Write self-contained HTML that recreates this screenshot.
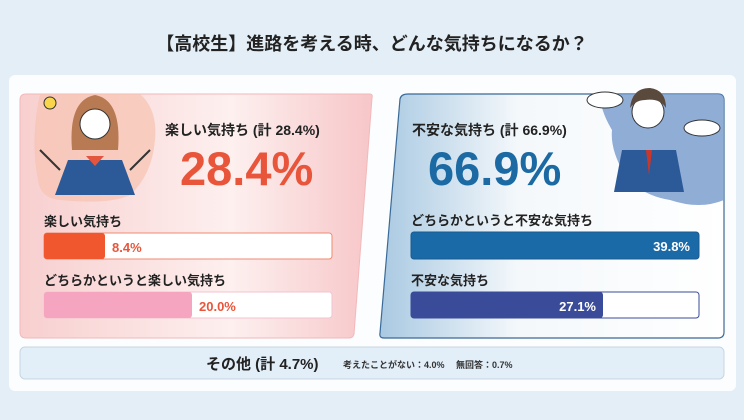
<!DOCTYPE html>
<html><head><meta charset="utf-8"><style>
body{margin:0;width:744px;height:415px;overflow:hidden;background:#e3eef6;font-family:"Liberation Sans","Noto Sans CJK JP",sans-serif;}
</style></head><body>
<svg width="744" height="415" xmlns="http://www.w3.org/2000/svg" style="font-family:'Liberation Sans','Noto Sans CJK JP',sans-serif">
<defs>
<linearGradient id="pk" x1="0" y1="0" x2="1" y2="0"><stop offset="0" stop-color="#f8cfcf"/><stop offset="0.6" stop-color="#fdf0ef"/><stop offset="1" stop-color="#f7c6c8"/></linearGradient>
<linearGradient id="bl" x1="0" y1="0" x2="1" y2="0"><stop offset="0" stop-color="#a9c9e2"/><stop offset="0.4" stop-color="#f4f8fb"/><stop offset="1" stop-color="#ffffff"/></linearGradient>
</defs>
<rect x="0" y="0" width="744" height="415" fill="#e3eef6"/>
<text x="372" y="50" text-anchor="middle" font-size="18" font-weight="bold" fill="#222">【高校生】進路を考える時、どんな気持ちになるか？</text>
<rect x="9" y="75" width="727" height="316" rx="6" fill="#fbfdfe"/>
<!-- left panel -->
<path d="M26 94 H370 Q373 94 372 98 L354 334 Q353 338 349 338 H26 Q20 338 20 332 V100 Q20 94 26 94Z" fill="url(#pk)" stroke="#f2b9bb" stroke-width="1"/>
<path d="M40 94 H140 Q158 110 155 140 Q152 175 130 195 Q110 205 60 200 Q40 198 38 180 Q30 140 40 94Z" fill="#f7c3b0" opacity="0.7"/>
<circle cx="50" cy="103" r="6" fill="#f8d54b" stroke="#333" stroke-width="1"/>
<path d="M72 150 Q68 100 95 95 Q122 100 118 150Z" fill="#b87a52"/>
<circle cx="95" cy="124" r="15" fill="#fff" stroke="#333"/>
<path d="M55 195 L68 160 H122 L135 195Z" fill="#2c5a99"/>
<path d="M86 156 L95 166 L104 156Z" fill="#e4553e"/>
<path d="M40 150 L60 170 M150 150 L130 170" stroke="#333" stroke-width="2"/>
<text x="165" y="135" font-size="14" font-weight="bold" fill="#222">楽しい気持ち (計 28.4%)</text>
<text x="180" y="185" font-size="47" font-weight="bold" fill="#e9553a">28.4%</text>
<text x="44" y="226" font-size="13" font-weight="bold" fill="#222">楽しい気持ち</text>
<rect x="44" y="233" width="288" height="26" rx="3" fill="#fff" stroke="#f08a70"/>
<rect x="44" y="233" width="61" height="26" rx="3" fill="#f0572f"/>
<text x="112" y="252" font-size="13" font-weight="bold" fill="#e9553a">8.4%</text>
<text x="44" y="285" font-size="13" font-weight="bold" fill="#222">どちらかというと楽しい気持ち</text>
<rect x="44" y="292" width="288" height="26" rx="3" fill="#fff" stroke="#f3c3d0"/>
<rect x="44" y="292" width="148" height="26" rx="3" fill="#f5a5bf"/>
<text x="199" y="311" font-size="13" font-weight="bold" fill="#e9553a">20.0%</text>
<!-- right panel -->
<path d="M408 94 H718 Q724 94 724 100 V332 Q724 338 718 338 H384 Q379 338 380 333 L400 99 Q401 94 408 94Z" fill="url(#bl)" stroke="#3a6a98" stroke-width="1.2"/>
<path d="M600 94 H718 Q724 94 724 100 V200 Q700 210 670 200 Q640 195 625 175 Q610 150 612 130 Q600 110 600 94Z" fill="#7d9fcf" opacity="0.85"/>
<ellipse cx="605" cy="100" rx="18" ry="8" fill="#fff" stroke="#333"/>
<ellipse cx="702" cy="128" rx="18" ry="8" fill="#fff" stroke="#333"/>
<circle cx="648" cy="112" r="16" fill="#fff" stroke="#333"/>
<path d="M630 108 Q632 88 650 88 Q666 90 666 108 Q660 98 645 100 Q636 100 630 108Z" fill="#5a4a3e"/>
<path d="M614 192 L622 150 H676 L684 192Z" fill="#2c5a99"/>
<path d="M646 150 L649 175 L652 150Z" fill="#c9372c"/>
<text x="412" y="135" font-size="14" font-weight="bold" fill="#222">不安な気持ち (計 66.9%)</text>
<text x="428" y="185" font-size="47" font-weight="bold" fill="#1b6aa3">66.9%</text>
<text x="411" y="225" font-size="13" font-weight="bold" fill="#222">どちらかというと不安な気持ち</text>
<rect x="411" y="232" width="288" height="27" rx="3" fill="#1a6aa8" stroke="#1a5a90"/>
<text x="690" y="251" text-anchor="end" font-size="13" font-weight="bold" fill="#fff">39.8%</text>
<text x="411" y="285" font-size="13" font-weight="bold" fill="#222">不安な気持ち</text>
<rect x="411" y="292" width="288" height="26" rx="3" fill="#fff" stroke="#3a4b9a"/>
<rect x="411" y="292" width="192" height="26" rx="3" fill="#3a4b9a"/>
<text x="596" y="311" text-anchor="end" font-size="13" font-weight="bold" fill="#fff">27.1%</text>
<!-- bottom -->
<rect x="20" y="347" width="704" height="32" rx="5" fill="#e2eef8" stroke="#c8d6e2"/>
<text x="206" y="369" font-size="15" font-weight="bold" fill="#222">その他 (計 4.7%)</text>
<text x="343" y="368" font-size="9" font-weight="bold" fill="#333">考えたことがない：4.0%　 無回答：0.7%</text>
</svg>
</body></html>
